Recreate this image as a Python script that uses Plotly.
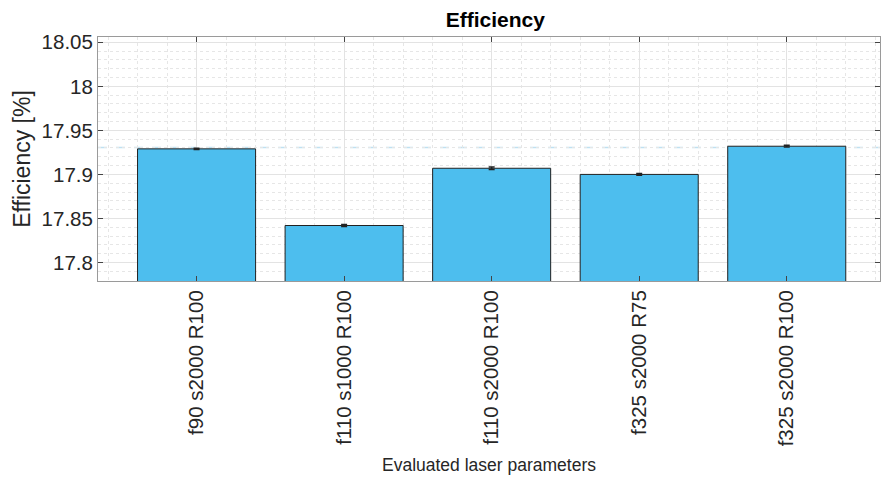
import plotly.graph_objects as go

categories = ["f90 s2000 R100", "f110 s1000 R100", "f110 s2000 R100", "f325 s2000 R75", "f325 s2000 R100"]
efficiency = [17.929, 17.842, 17.907, 17.900, 17.932]
errors = [0.0008, 0.0010, 0.0015, 0.0010, 0.0010]
reference_level = 17.9305
y_ticks = [17.8, 17.85, 17.9, 17.95, 18.0, 18.05]
y_tick_text = ["17.8", "17.85", "17.9", "17.95", "18", "18.05"]

x_pos = list(range(len(categories)))

FONT = "Liberation Sans, Arial, sans-serif"

fig = go.Figure()
fig.add_trace(go.Bar(
    x=x_pos, y=efficiency, width=0.8,
    marker=dict(color="#4DBEEE", line=dict(color="#222222", width=1)),
    error_y=dict(type="data", array=errors, visible=True, color="#222222", thickness=1.5, width=3),
    showlegend=False,
))

fig.add_shape(type="line", xref="paper", yref="y", x0=0, x1=1,
              y0=reference_level, y1=reference_level,
              line=dict(color="#bfe1f2", width=1.5, dash="dash"), layer="below")

axis_common = dict(
    showline=True, linecolor="#9a9a9a", linewidth=1, mirror="ticks",
    ticks="inside", ticklen=5, tickcolor="#444444",
    showgrid=True, gridcolor="#e3e3e3", gridwidth=1,
    tickfont=dict(family=FONT, size=20.5, color="#262626"),
    zeroline=False, automargin=False,
)

W, H = 882, 483
fig.update_layout(
    width=W, height=H,
    margin=dict(l=98, r=2, t=37, b=202),
    paper_bgcolor="white", plot_bgcolor="white",
    title=dict(text="<b>Efficiency</b>", xref="paper", x=0.508, xanchor="center",
               yref="container", y=1 - 20 / H, yanchor="middle",
               font=dict(family=FONT, size=21, color="#000000")),
    xaxis=dict(
        **axis_common,
        range=[-0.668, 4.632], tickmode="array", tickvals=x_pos, ticktext=categories,
        tickangle=-90,
        minor=dict(dtick=0.2, tick0=0, showgrid=True, gridcolor="#e6e6e6", griddash="dot", ticks=""),
        title=dict(text="Evaluated laser parameters", standoff=13,
                   font=dict(family=FONT, size=17.5, color="#262626")),
    ),
    yaxis=dict(
        **axis_common,
        range=[17.779, 18.056], tickmode="array", tickvals=y_ticks, ticktext=y_tick_text,
        minor=dict(dtick=0.01, tick0=17.8, showgrid=True, gridcolor="#e6e6e6", griddash="dot", ticks=""),
        title=dict(text="Efficiency [%]", standoff=4,
                   font=dict(family=FONT, size=23, color="#262626")),
    ),
)

fig.write_html(
    "out.html",
    config={"displayModeBar": False},
    post_script="document.body.style.margin='0';document.body.style.overflow='hidden';"
                "document.documentElement.style.overflow='hidden';",
)
